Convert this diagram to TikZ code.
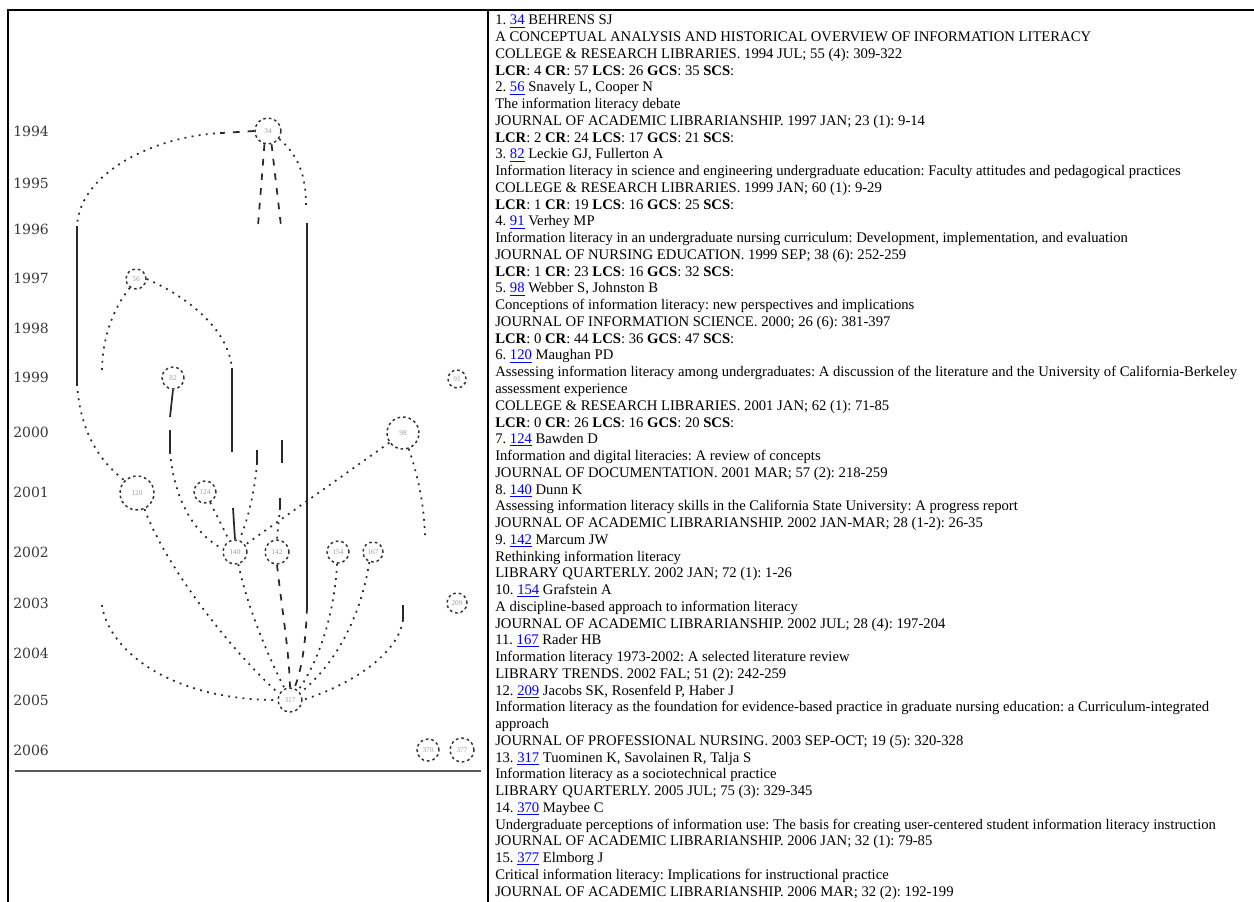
\documentclass[tikz,border=0pt]{standalone}
\usepackage{fontspec}
\setmainfont{Liberation Serif}
\newfontfamily\yearfont{DejaVu Serif}
\definecolor{lnkblue}{RGB}{0,0,238}
\definecolor{edgec}{RGB}{40,40,40}
\newcommand\lnk[1]{\textcolor{lnkblue}{\underline{#1}}}
\newcommand\stats[5]{\textbf{LCR}: #1 \textbf{CR}: #2 \textbf{LCS}: #3 \textbf{GCS}: #4 \textbf{SCS}:}
\tikzset{
  txt/.style={anchor=base west, inner sep=0pt, font=\frenchspacing\fontsize{11}{13}\selectfont},
  yr/.style={anchor=west, inner sep=0pt, text=black!78, font=\yearfont\fontsize{10.5}{11}\selectfont},
  nd/.style={circle, draw=black!80, line width=1.1pt, dash pattern=on 2pt off 2.2pt,
     minimum size={0.75pt*#1}, inner sep=0pt, text=black!38, font=\fontsize{5.5}{6}\selectfont},
  dot/.style={draw=edgec, line width=1.3pt, dash pattern=on 1.4pt off 4pt},
  dsh/.style={draw=edgec, line width=1.3pt, dash pattern=on 5pt off 6pt},
  sol/.style={draw=edgec, line width=1.3pt},
}
\begin{document}
\begin{tikzpicture}[x=0.75pt,y=-0.75pt]
\useasboundingbox (0,0) rectangle (1254,902);
% table frame
\draw[line width=1.5pt] (8,902) -- (8,10) -- (1254,10);
\draw[line width=1.5pt] (488,10) -- (488,902);
\draw[black!65, line width=1.1pt] (15,771) -- (481,771);
% years
\node[yr] (y1994) at (13,131) {1994};
\node[yr] (y1995) at (13,183) {1995};
\node[yr] (y1996) at (13,229) {1996};
\node[yr] (y1997) at (13,278) {1997};
\node[yr] (y1998) at (13,328) {1998};
\node[yr] (y1999) at (13,377) {1999};
\node[yr] (y2000) at (13,432) {2000};
\node[yr] (y2001) at (13,492) {2001};
\node[yr] (y2002) at (13,552) {2002};
\node[yr] (y2003) at (13,603) {2003};
\node[yr] (y2004) at (13,653) {2004};
\node[yr] (y2005) at (13,700) {2005};
\node[yr] (y2006) at (13,750) {2006};
% paper nodes
\node[nd=26] (n34) at (268,131) {34};
\node[nd=20] (n56) at (136,279) {56};
\node[nd=22] (n82) at (173,378) {82};
\node[nd=18] (n91) at (457,379) {91};
\node[nd=32] (n98) at (403,433) {98};
\node[nd=34] (n120) at (137,493) {120};
\node[nd=22] (n124) at (205,492) {124};
\node[nd=24] (n140) at (235,552) {140};
\node[nd=24] (n142) at (277,552) {142};
\node[nd=22] (n154) at (338,552) {154};
\node[nd=20] (n167) at (373,552) {167};
\node[nd=20] (n209) at (457,603) {209};
\node[nd=24] (n317) at (290,700) {317};
\node[nd=22] (n370) at (428,750) {370};
\node[nd=24] (n377) at (462,750) {377};
% free ends of broken connectors
\coordinate (a1) at (222,133); \coordinate (a2) at (77,226); \coordinate (a3) at (77,384);
\coordinate (b1) at (102,372); \coordinate (b2) at (102,605);
\coordinate (c1) at (232,368); \coordinate (c2) at (232,452); \coordinate (c3) at (233,508);
\coordinate (d1) at (258,226); \coordinate (d2) at (257,450); \coordinate (d3) at (257,463);
\coordinate (e1) at (281,226); \coordinate (e2) at (282,440); \coordinate (e3) at (282,463);
\coordinate (e4) at (280,498); \coordinate (e5) at (280,508);
\coordinate (f1) at (306,205); \coordinate (f2) at (307,223); \coordinate (f3) at (307,607);
\coordinate (g1) at (425,536); \coordinate (g2) at (403,605); \coordinate (g3) at (403,620);
\coordinate (h1) at (170,417); \coordinate (h2) at (170,430); \coordinate (h3) at (170,452);
% connectors
\draw[dsh] (n34.west) -- (a1);
\draw[dot] (a1) .. controls (155,136) and (80,172) .. (a2);
\draw[sol] (a2) -- (a3);
\draw[dot] (a3) .. controls (80,430) and (98,460) .. (n120.135);
\draw[dot] (n56.235) .. controls (112,310) and (102,340) .. (b1);
\draw[dot] (b2) .. controls (108,650) and (170,700) .. (n317.west);
\draw[dot] (n56.east) .. controls (190,298) and (228,330) .. (c1);
\draw[sol] (c1) -- (c2);
\draw[sol] (c3) -- (n140.north);
\draw[dsh] (n34.255) -- (d1);
\draw[sol] (d2) -- (d3);
\draw[dot] (d3) .. controls (255,490) and (248,520) .. (n140.70);
\draw[dsh] (n34.285) -- (e1);
\draw[sol] (e2) -- (e3);
\draw[sol] (e4) -- (e5);
\draw[dot] (e5) -- (n142.north);
\draw[dot] (n34.-35) .. controls (298,155) and (306,175) .. (f1);
\draw[sol] (f2) -- (f3);
\draw[dsh] (f3) .. controls (306,640) and (302,670) .. (n317.70);
\draw[dot] (n98) -- (n140);
\draw[dot] (n98.-70) .. controls (416,470) and (424,500) .. (g1);
\draw[sol] (g2) -- (g3);
\draw[dot] (g3) .. controls (398,655) and (350,685) .. (n317.east);
\draw[sol] (n82.south) -- (h1);
\draw[sol] (h2) -- (h3);
\draw[dot] (h3) .. controls (174,500) and (195,535) .. (n140.165);
\draw[dot] (n124) -- (n140);
\draw[dot] (n120.-65) .. controls (165,565) and (230,650) .. (n317.150);
\draw[dot] (n140.-75) .. controls (248,610) and (270,660) .. (n317.115);
\draw[dsh] (n142.south) .. controls (282,610) and (289,650) .. (n317.north);
\draw[dot] (n154.-95) .. controls (335,610) and (320,660) .. (n317.50);
\draw[dot] (n167.-110) .. controls (362,610) and (340,660) .. (n317.35);
% text list
\node[txt] (t0) at (495,25) {1. \lnk{34} BEHRENS SJ};
\node[txt] (t1) at (495,41.75) {A CONCEPTUAL ANALYSIS AND HISTORICAL OVERVIEW OF INFORMATION LITERACY};
\node[txt] (t2) at (495,58.5) {COLLEGE \& RESEARCH LIBRARIES. 1994 JUL; 55 (4): 309-322};
\node[txt] (t3) at (495,75.25) {\stats{4}{57}{26}{35}{}};
\node[txt] (t4) at (495,92) {2. \lnk{56} Snavely L, Cooper N};
\node[txt] (t5) at (495,108.75) {The information literacy debate};
\node[txt] (t6) at (495,125.5) {JOURNAL OF ACADEMIC LIBRARIANSHIP. 1997 JAN; 23 (1): 9-14};
\node[txt] (t7) at (495,142.25) {\stats{2}{24}{17}{21}{}};
\node[txt] (t8) at (495,159) {3. \lnk{82} Leckie GJ, Fullerton A};
\node[txt] (t9) at (495,175.75) {Information literacy in science and engineering undergraduate education: Faculty attitudes and pedagogical practices};
\node[txt] (t10) at (495,192.5) {COLLEGE \& RESEARCH LIBRARIES. 1999 JAN; 60 (1): 9-29};
\node[txt] (t11) at (495,209.25) {\stats{1}{19}{16}{25}{}};
\node[txt] (t12) at (495,226) {4. \lnk{91} Verhey MP};
\node[txt] (t13) at (495,242.75) {Information literacy in an undergraduate nursing curriculum: Development, implementation, and evaluation};
\node[txt] (t14) at (495,259.5) {JOURNAL OF NURSING EDUCATION. 1999 SEP; 38 (6): 252-259};
\node[txt] (t15) at (495,276.25) {\stats{1}{23}{16}{32}{}};
\node[txt] (t16) at (495,293) {5. \lnk{98} Webber S, Johnston B};
\node[txt] (t17) at (495,309.75) {Conceptions of information literacy: new perspectives and implications};
\node[txt] (t18) at (495,326.5) {JOURNAL OF INFORMATION SCIENCE. 2000; 26 (6): 381-397};
\node[txt] (t19) at (495,343.25) {\stats{0}{44}{36}{47}{}};
\node[txt] (t20) at (495,360) {6. \lnk{120} Maughan PD};
\node[txt] (t21) at (495,376.75) {Assessing information literacy among undergraduates: A discussion of the literature and the University of California-Berkeley};
\node[txt] (t22) at (495,393.5) {assessment experience};
\node[txt] (t23) at (495,410.25) {COLLEGE \& RESEARCH LIBRARIES. 2001 JAN; 62 (1): 71-85};
\node[txt] (t24) at (495,427) {\stats{0}{26}{16}{20}{}};
\node[txt] (t25) at (495,443.75) {7. \lnk{124} Bawden D};
\node[txt] (t26) at (495,460.5) {Information and digital literacies: A review of concepts};
\node[txt] (t27) at (495,477.25) {JOURNAL OF DOCUMENTATION. 2001 MAR; 57 (2): 218-259};
\node[txt] (t28) at (495,494) {8. \lnk{140} Dunn K};
\node[txt] (t29) at (495,510.75) {Assessing information literacy skills in the California State University: A progress report};
\node[txt] (t30) at (495,527.5) {JOURNAL OF ACADEMIC LIBRARIANSHIP. 2002 JAN-MAR; 28 (1-2): 26-35};
\node[txt] (t31) at (495,544.25) {9. \lnk{142} Marcum JW};
\node[txt] (t32) at (495,561) {Rethinking information literacy};
\node[txt] (t33) at (495,577.75) {LIBRARY QUARTERLY. 2002 JAN; 72 (1): 1-26};
\node[txt] (t34) at (495,594.5) {10. \lnk{154} Grafstein A};
\node[txt] (t35) at (495,611.25) {A discipline-based approach to information literacy};
\node[txt] (t36) at (495,628) {JOURNAL OF ACADEMIC LIBRARIANSHIP. 2002 JUL; 28 (4): 197-204};
\node[txt] (t37) at (495,644.75) {11. \lnk{167} Rader HB};
\node[txt] (t38) at (495,661.5) {Information literacy 1973-2002: A selected literature review};
\node[txt] (t39) at (495,678.25) {LIBRARY TRENDS. 2002 FAL; 51 (2): 242-259};
\node[txt] (t40) at (495,695) {12. \lnk{209} Jacobs SK, Rosenfeld P, Haber J};
\node[txt] (t41) at (495,711.75) {Information literacy as the foundation for evidence-based practice in graduate nursing education: a Curriculum-integrated};
\node[txt] (t42) at (495,728.5) {approach};
\node[txt] (t43) at (495,745.25) {JOURNAL OF PROFESSIONAL NURSING. 2003 SEP-OCT; 19 (5): 320-328};
\node[txt] (t44) at (495,762) {13. \lnk{317} Tuominen K, Savolainen R, Talja S};
\node[txt] (t45) at (495,778.75) {Information literacy as a sociotechnical practice};
\node[txt] (t46) at (495,795.5) {LIBRARY QUARTERLY. 2005 JUL; 75 (3): 329-345};
\node[txt] (t47) at (495,812.25) {14. \lnk{370} Maybee C};
\node[txt] (t48) at (495,829) {Undergraduate perceptions of information use: The basis for creating user-centered student information literacy instruction};
\node[txt] (t49) at (495,845.75) {JOURNAL OF ACADEMIC LIBRARIANSHIP. 2006 JAN; 32 (1): 79-85};
\node[txt] (t50) at (495,862.5) {15. \lnk{377} Elmborg J};
\node[txt] (t51) at (495,879.25) {Critical information literacy: Implications for instructional practice};
\node[txt] (t52) at (495,896) {JOURNAL OF ACADEMIC LIBRARIANSHIP. 2006 MAR; 32 (2): 192-199};
\end{tikzpicture}
\end{document}
